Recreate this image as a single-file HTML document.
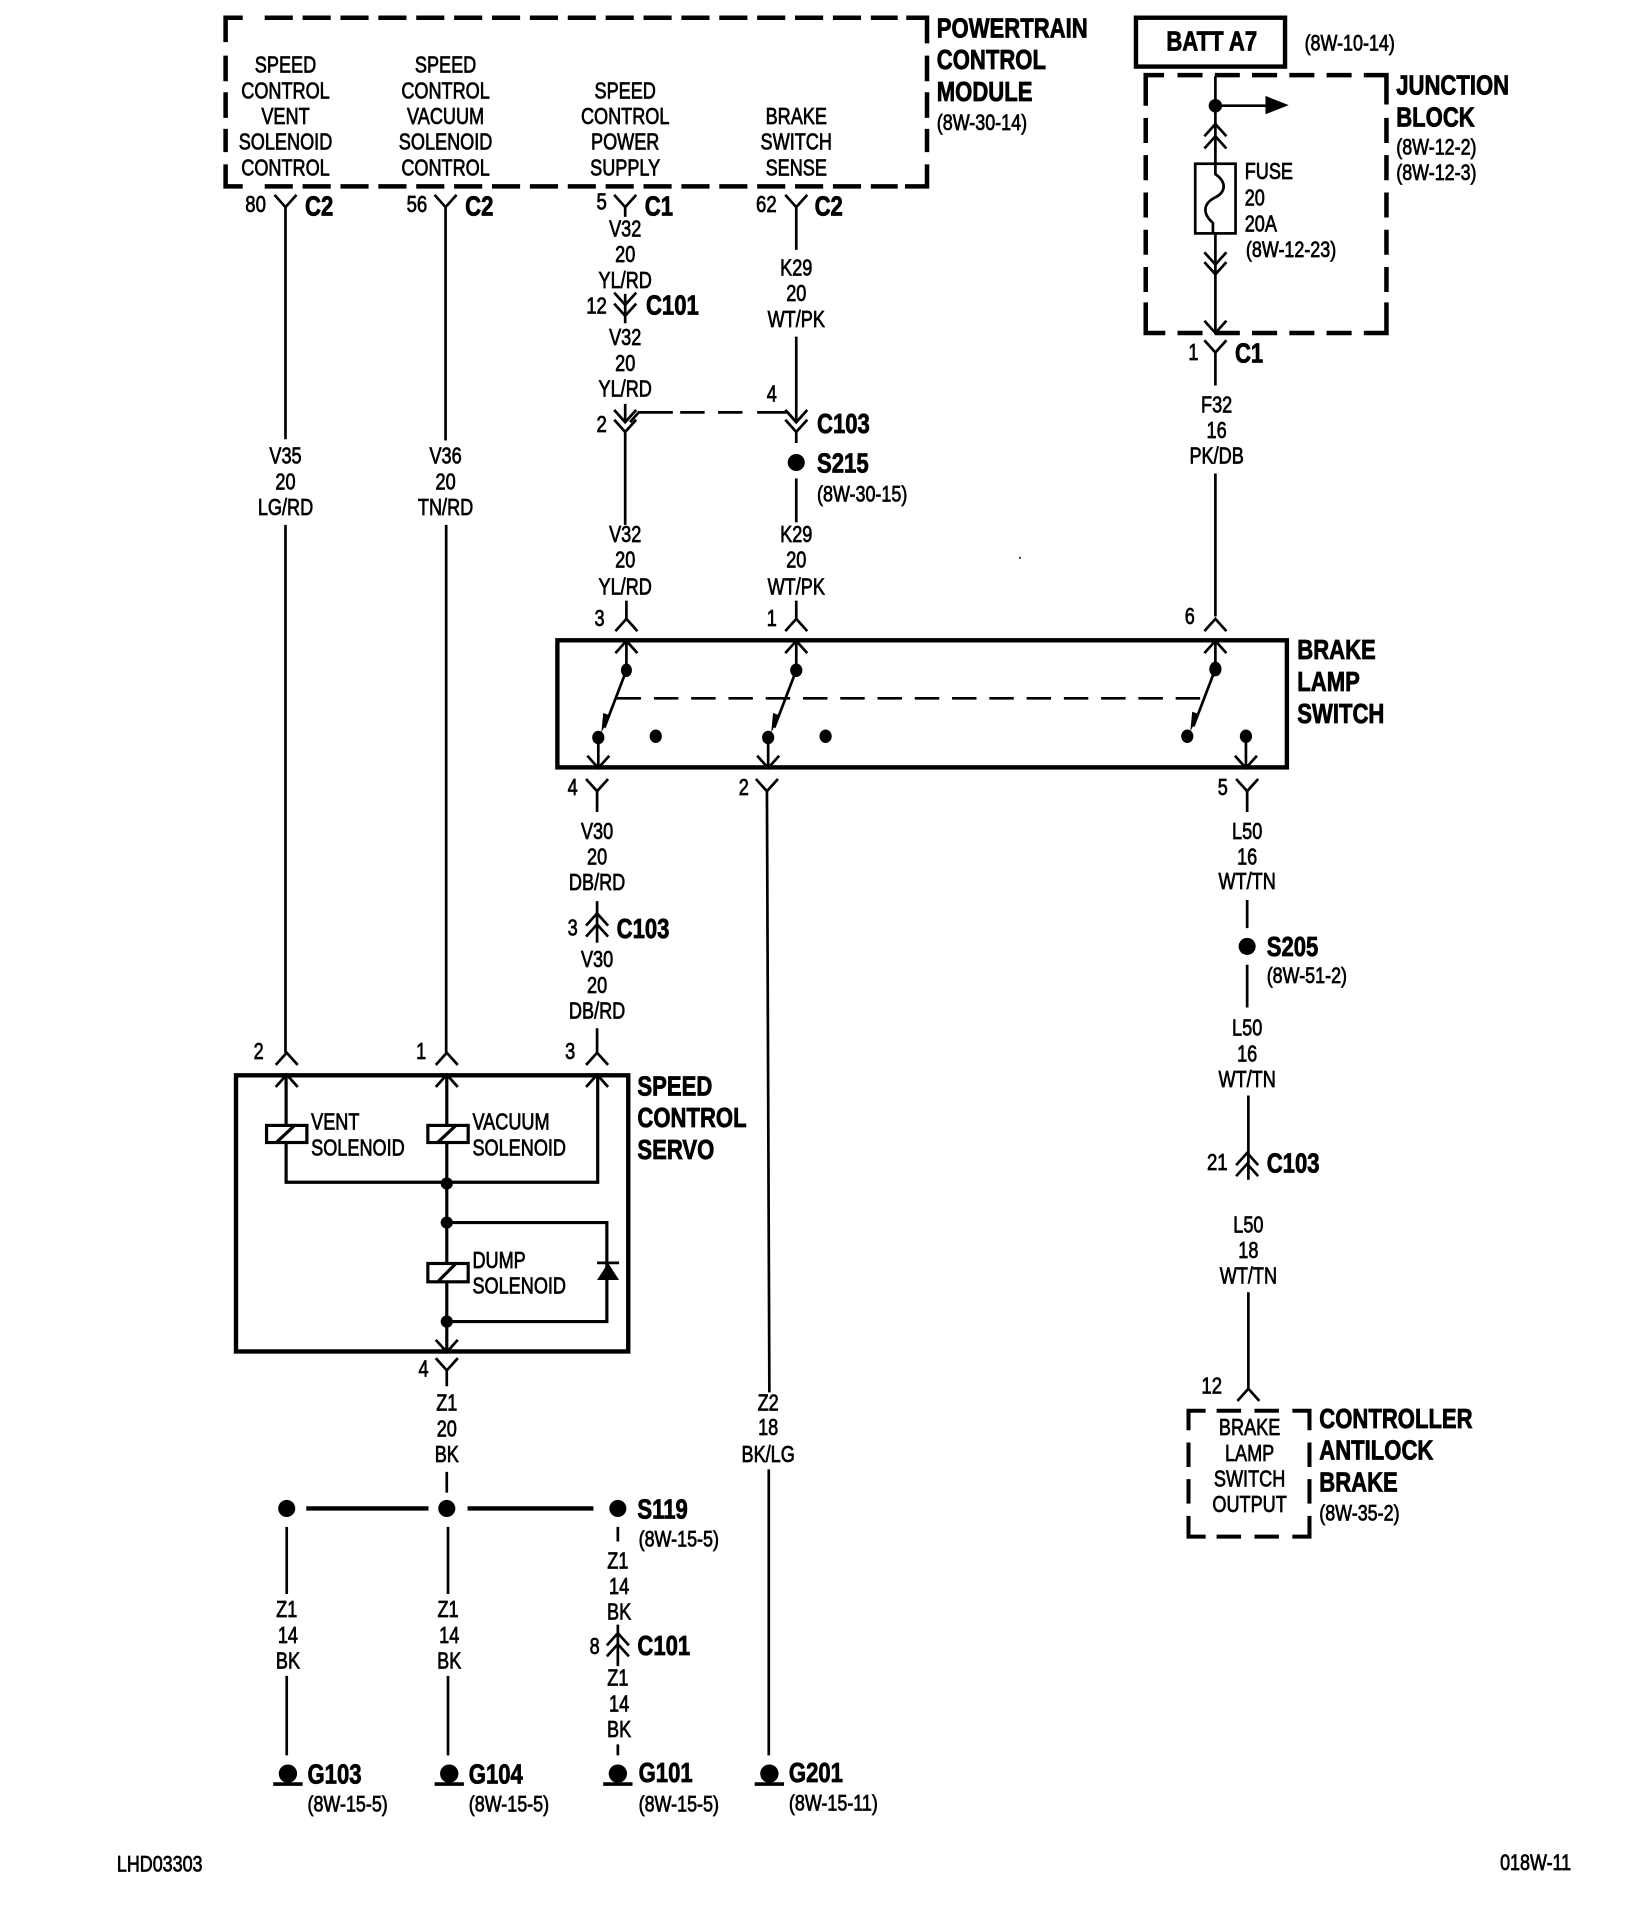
<!DOCTYPE html>
<html><head><meta charset="utf-8"><title>Wiring diagram</title>
<style>
html,body{margin:0;padding:0;background:#fff}
svg{display:block}
text{font-family:"Liberation Sans",sans-serif;font-size:19px;fill:#000;stroke:#000;stroke-width:.6}
.b{font-weight:bold;font-size:22.6px;stroke-width:.65}
.r{font-size:18px}
.m{text-anchor:middle}
.e{text-anchor:end}
.w{fill:none;stroke:#000;stroke-width:2.2}
.h{fill:none;stroke:#000;stroke-width:3.6}
.d{fill:none;stroke:#000;stroke-width:3.7}
.f{fill:#000;stroke:none}
</style></head><body>
<svg xmlns="http://www.w3.org/2000/svg" width="1648" height="1916" viewBox="0 0 1348 1568">
<defs>
<path id="v" d="M-9-10L0 0L9-10" fill="none" stroke="#000" stroke-width="2.2"/>
<path id="a" d="M-9 10L0 0L9 10" fill="none" stroke="#000" stroke-width="2.2"/>
<g id="g"><circle cx="0" cy="-1" r="7.5" fill="#000"/><path d="M-12 7.500H12" stroke="#000" stroke-width="3"/></g>
</defs>
<rect width="1348" height="1568" fill="#fff"/>
<g transform="translate(-.7 -.5)">

<!-- PCM box -->
<g class="d">
<path d="M185 35V15H199"/><path d="M217 15H735" stroke-dasharray="23 8"/><path d="M742 15H759V36"/>
<path d="M759 46V125" stroke-dasharray="21 9"/><path d="M759 135V153H741"/>
<path d="M217 153H735" stroke-dasharray="23 8"/><path d="M185 135V153H199"/><path d="M185 46V125" stroke-dasharray="21 9"/>
</g>
<g>
<text transform="translate(234 60)scale(.78 1)" class="m">SPEED</text>
<text transform="translate(234 81)scale(.78 1)" class="m">CONTROL</text>
<text transform="translate(234 102)scale(.78 1)" class="m">VENT</text>
<text transform="translate(234 123)scale(.78 1)" class="m">SOLENOID</text>
<text transform="translate(234 144)scale(.78 1)" class="m">CONTROL</text>
<text transform="translate(365 60)scale(.78 1)" class="m">SPEED</text>
<text transform="translate(365 81)scale(.78 1)" class="m">CONTROL</text>
<text transform="translate(365 102)scale(.78 1)" class="m">VACUUM</text>
<text transform="translate(365 123)scale(.78 1)" class="m">SOLENOID</text>
<text transform="translate(365 144)scale(.78 1)" class="m">CONTROL</text>
<text transform="translate(512 81)scale(.78 1)" class="m">SPEED</text>
<text transform="translate(512 102)scale(.78 1)" class="m">CONTROL</text>
<text transform="translate(512 123)scale(.78 1)" class="m">POWER</text>
<text transform="translate(512 144)scale(.78 1)" class="m">SUPPLY</text>
<text transform="translate(652 102)scale(.78 1)" class="m">BRAKE</text>
<text transform="translate(652 123)scale(.78 1)" class="m">SWITCH</text>
<text transform="translate(652 144)scale(.78 1)" class="m">SENSE</text>
<text transform="translate(767 31)scale(.8 1)" class="b">POWERTRAIN</text>
<text transform="translate(767 57)scale(.8 1)" class="b">CONTROL</text>
<text transform="translate(767 83)scale(.8 1)" class="b">MODULE</text>
<text transform="translate(767 107)scale(.815 1)" class="r">(8W-30-14)</text>
</g>

<!-- Batt / junction block -->
<rect x="930" y="15" width="122" height="40" class="h"/>
<text transform="translate(992 42)scale(.8 1)" class="b m">BATT A7</text>
<text transform="translate(1068 42)scale(.815 1)" class="r">(8W-10-14)</text>
<g class="d">
<path d="M938 87V62H953"/><path d="M964 62H1118" stroke-dasharray="20.500 10"/><path d="M1118 62H1135V86"/>
<path d="M1135 97V240" stroke-dasharray="20.500 10"/><path d="M1135 248V273H1118"/>
<path d="M964 273H1118" stroke-dasharray="20.500 10"/><path d="M938 248V273H954"/><path d="M938 97V240" stroke-dasharray="20.500 10"/>
</g>
<path d="M995 63V134M995 192V274" class="w"/>
<circle cx="995" cy="87" r="5.500" class="f"/>
<path d="M995 87H1040" class="w"/><path d="M1036 79L1055 86.500L1036 94Z" class="f"/>
<use href="#a" x="995" y="102"/><use href="#a" x="995" y="112"/>
<rect x="978.500" y="134.500" width="33" height="57" class="w"/>
<path d="M995 134V143C1005 150 1003 158 995 162C985 167 984 175 993 183V192" class="w"/>
<use href="#v" x="995" y="217"/><use href="#v" x="995" y="225"/>
<use href="#v" x="995" y="273"/>
<use href="#v" x="995" y="289"/>
<path d="M995 289V316M995 388V505" class="w"/>
<text transform="translate(1019 147)scale(.78 1)">FUSE</text>
<text transform="translate(1019 168.500)scale(.78 1)">20</text>
<text transform="translate(1019 190)scale(.78 1)">20A</text>
<text transform="translate(1020 211)scale(.815 1)" class="r">(8W-12-23)</text>
<text transform="translate(1143 78)scale(.8 1)" class="b">JUNCTION</text>
<text transform="translate(1143 104)scale(.8 1)" class="b">BLOCK</text>
<text transform="translate(1143 127)scale(.815 1)" class="r">(8W-12-2)</text>
<text transform="translate(1143 148)scale(.815 1)" class="r">(8W-12-3)</text>
<text transform="translate(977 295)scale(.78 1)" class="m">1</text>
<text transform="translate(1011 297)scale(.8 1)" class="b">C1</text>
<text transform="translate(996 338)scale(.78 1)" class="m">F32</text>
<text transform="translate(996 359)scale(.78 1)" class="m">16</text>
<text transform="translate(996 380)scale(.78 1)" class="m">PK/DB</text>

<!-- Column 234 / 365 -->
<use href="#v" x="234" y="170"/><use href="#v" x="365" y="170"/>
<path d="M234 170V360M234 430V862M365 170V361M365.500 430V862" class="w"/>
<text transform="translate(218 174)scale(.8 1)" class="e">80</text>
<text transform="translate(350 174)scale(.8 1)" class="e">56</text>
<text transform="translate(250 177)scale(.8 1)" class="b">C2</text>
<text transform="translate(381 177)scale(.8 1)" class="b">C2</text>
<text transform="translate(234 380)scale(.78 1)" class="m">V35</text>
<text transform="translate(234 401)scale(.78 1)" class="m">20</text>
<text transform="translate(234 422)scale(.78 1)" class="m">LG/RD</text>
<text transform="translate(365 380)scale(.78 1)" class="m">V36</text>
<text transform="translate(365 401)scale(.78 1)" class="m">20</text>
<text transform="translate(365 422)scale(.78 1)" class="m">TN/RD</text>

<!-- Column 512 -->
<use href="#v" x="512" y="170"/>
<path d="M512 170V178M512 241V265M512 331V346M512 354V430" class="w"/>
<text transform="translate(497 172)scale(.8 1)" class="e">5</text>
<text transform="translate(528 177)scale(.8 1)" class="b">C1</text>
<text transform="translate(512 194)scale(.78 1)" class="m">V32</text>
<text transform="translate(512 215)scale(.78 1)" class="m">20</text>
<text transform="translate(512 236)scale(.78 1)" class="m">YL/RD</text>
<use href="#v" x="512" y="250"/><use href="#v" x="512" y="259"/>
<text transform="translate(497 257)scale(.8 1)" class="e">12</text>
<text transform="translate(529 258)scale(.8 1)" class="b">C101</text>
<text transform="translate(512 283)scale(.78 1)" class="m">V32</text>
<text transform="translate(512 304)scale(.78 1)" class="m">20</text>
<text transform="translate(512 325)scale(.78 1)" class="m">YL/RD</text>
<use href="#v" x="512" y="346"/><use href="#v" x="512" y="354"/>
<text transform="translate(497 354)scale(.8 1)" class="e">2</text>
<path d="M516 346L523 338H551M557 338H577M588 338H608M620 338H645L652 346" class="w"/>
<text transform="translate(512 444)scale(.78 1)" class="m">V32</text>
<text transform="translate(512 465)scale(.78 1)" class="m">20</text>
<text transform="translate(512 487)scale(.78 1)" class="m">YL/RD</text>

<!-- Column 652 -->
<use href="#v" x="652" y="170"/>
<path d="M652 170V205M652 276V346M652 354V363M652 392V428" class="w"/>
<text transform="translate(636 174)scale(.8 1)" class="e">62</text>
<text transform="translate(667 177)scale(.8 1)" class="b">C2</text>
<text transform="translate(652 226)scale(.78 1)" class="m">K29</text>
<text transform="translate(652 247)scale(.78 1)" class="m">20</text>
<text transform="translate(652 268)scale(.78 1)" class="m">WT/PK</text>
<text transform="translate(632 329)scale(.78 1)" class="m">4</text>
<use href="#v" x="652" y="346"/><use href="#v" x="652" y="354"/>
<text transform="translate(669 355)scale(.8 1)" class="b">C103</text>
<circle cx="652" cy="379" r="7" class="f"/>
<text transform="translate(669 387)scale(.8 1)" class="b">S215</text>
<text transform="translate(669 411)scale(.815 1)" class="r">(8W-30-15)</text>
<text transform="translate(652 444)scale(.78 1)" class="m">K29</text>
<text transform="translate(652 465)scale(.78 1)" class="m">20</text>
<text transform="translate(652 487)scale(.78 1)" class="m">WT/PK</text>
<circle cx="835" cy="457" r=".8" class="f"/>

<!-- Brake lamp switch -->
<rect x="456.500" y="524.500" width="597" height="104" class="h"/>
<text transform="translate(1062 540)scale(.8 1)" class="b">BRAKE</text>
<text transform="translate(1062 566)scale(.8 1)" class="b">LAMP</text>
<text transform="translate(1062 592)scale(.8 1)" class="b">SWITCH</text>
<text transform="translate(491 513)scale(.78 1)" class="m">3</text>
<text transform="translate(632 513)scale(.78 1)" class="m">1</text>
<text transform="translate(974 511)scale(.78 1)" class="m">6</text>
<use href="#a" x="513" y="507"/><use href="#a" x="652" y="507"/><use href="#a" x="995" y="507"/>
<use href="#a" x="513" y="525"/><use href="#a" x="652" y="525"/><use href="#a" x="995" y="525"/>
<path d="M513 492V507M652 492V507M513 525V549M652 525V549M995 525V548" class="w"/>
<g class="f">
<ellipse cx="513" cy="549" rx="4.500" ry="5.500"/><ellipse cx="652" cy="549" rx="5" ry="5.500"/><ellipse cx="995" cy="548" rx="5" ry="6"/>
<ellipse cx="490" cy="604" rx="5" ry="5.500"/><ellipse cx="629" cy="604" rx="5" ry="5.500"/><ellipse cx="972" cy="603" rx="5" ry="5.500"/>
<ellipse cx="537" cy="603" rx="5" ry="5.500"/><ellipse cx="676" cy="603" rx="5" ry="5.500"/><ellipse cx="1020" cy="603" rx="5" ry="5.500"/>
</g>
<path d="M513 549L495 596M652 549L634 596M995 548L977 595" class="w"/>
<path d="M492.500 600L494 584L500 586ZM631.500 600L633 584L639 586ZM974.500 599L976 583L982 585Z" class="f"/>
<path d="M505 572H985" class="w" stroke-dasharray="20 10.500"/>
<path d="M490 604V629M629 604V629M1020 603V629" class="w"/>
<use href="#v" x="490" y="629"/><use href="#v" x="629" y="629"/><use href="#v" x="1020" y="629"/>
<use href="#v" x="489" y="648"/><use href="#v" x="628" y="648"/><use href="#v" x="1021" y="648"/>
<path d="M489 648V665M628 648L630 1140M1021 648V665" class="w"/>
<text transform="translate(469 651)scale(.78 1)" class="m">4</text>
<text transform="translate(609 651)scale(.78 1)" class="m">2</text>
<text transform="translate(1001 651)scale(.78 1)" class="m">5</text>

<!-- Column 489 -->
<text transform="translate(489 687)scale(.78 1)" class="m">V30</text>
<text transform="translate(489 708)scale(.78 1)" class="m">20</text>
<text transform="translate(489 729)scale(.78 1)" class="m">DB/RD</text>
<use href="#a" x="489" y="748"/><use href="#a" x="489" y="757"/>
<path d="M489 738V772" class="w"/>
<text transform="translate(469 766)scale(.78 1)" class="m">3</text>
<text transform="translate(505 768)scale(.8 1)" class="b">C103</text>
<text transform="translate(489 792)scale(.78 1)" class="m">V30</text>
<text transform="translate(489 813)scale(.78 1)" class="m">20</text>
<text transform="translate(489 834)scale(.78 1)" class="m">DB/RD</text>
<path d="M489 842V862" class="w"/>

<!-- Speed control servo -->
<rect x="193.500" y="880.500" width="321" height="226" class="h"/>
<text transform="translate(212 867)scale(.78 1)" class="m">2</text>
<text transform="translate(345 867)scale(.78 1)" class="m">1</text>
<text transform="translate(467 867)scale(.78 1)" class="m">3</text>
<use href="#a" x="235" y="862"/><use href="#a" x="366" y="862"/><use href="#a" x="489" y="862"/>
<use href="#a" x="235" y="880"/><use href="#a" x="366" y="880"/><use href="#a" x="489" y="880"/>
<path d="M234.500 880V968H489.500V880M366 880V1107" class="w" style="stroke-width:2.600"/>
<g class="w" style="stroke-width:2.600">
<rect x="218.500" y="921.500" width="33" height="14" fill="#fff"/>
<rect x="350.500" y="921.500" width="33" height="14" fill="#fff"/>
<rect x="350.500" y="1034.500" width="33" height="15" fill="#fff"/>
<path d="M227 935L242 921M359 935L374 921M359 1049L374 1034"/>
<path d="M366 1001H497V1082H366"/>
</g>
<path d="M489 1034H507" class="w"/>
<path d="M498 1034L507 1048H489Z" class="f"/>
<circle cx="366" cy="969" r="5" class="f"/><circle cx="366" cy="1001" r="5" class="f"/><circle cx="366" cy="1082" r="5" class="f"/>
<text transform="translate(255 925)scale(.78 1)">VENT</text>
<text transform="translate(255 946)scale(.78 1)">SOLENOID</text>
<text transform="translate(387 925)scale(.78 1)">VACUUM</text>
<text transform="translate(387 946)scale(.78 1)">SOLENOID</text>
<text transform="translate(387 1038)scale(.78 1)">DUMP</text>
<text transform="translate(387 1059)scale(.78 1)">SOLENOID</text>
<text transform="translate(522 897)scale(.8 1)" class="b">SPEED</text>
<text transform="translate(522 923)scale(.8 1)" class="b">CONTROL</text>
<text transform="translate(522 949)scale(.8 1)" class="b">SERVO</text>
<use href="#v" x="366" y="1107"/><use href="#v" x="366" y="1122"/>
<path d="M366 1122V1135M366 1205V1222" class="w"/>
<text transform="translate(347 1127)scale(.78 1)" class="m">4</text>
<text transform="translate(366 1155)scale(.78 1)" class="m">Z1</text>
<text transform="translate(366 1176)scale(.78 1)" class="m">20</text>
<text transform="translate(366 1197)scale(.78 1)" class="m">BK</text>

<!-- S119 bus -->
<circle cx="235" cy="1235" r="7" class="f"/><circle cx="366" cy="1235" r="7" class="f"/><circle cx="506" cy="1235" r="7" class="f"/>
<path d="M251 1235H351M383 1235H486" class="h"/>
<path d="M235 1250V1305M367 1250V1305M235 1372V1437M367 1372V1437M506 1250V1262M506 1330V1364M506 1428V1437" class="w"/>
<text transform="translate(522 1243)scale(.8 1)" class="b">S119</text>
<text transform="translate(523 1266)scale(.815 1)" class="r">(8W-15-5)</text>
<text transform="translate(235 1324)scale(.78 1)" class="m">Z1</text>
<text transform="translate(236 1345)scale(.78 1)" class="m">14</text>
<text transform="translate(236 1366)scale(.78 1)" class="m">BK</text>
<text transform="translate(367 1324)scale(.78 1)" class="m">Z1</text>
<text transform="translate(368 1345)scale(.78 1)" class="m">14</text>
<text transform="translate(368 1366)scale(.78 1)" class="m">BK</text>
<text transform="translate(506 1284)scale(.78 1)" class="m">Z1</text>
<text transform="translate(507 1305)scale(.78 1)" class="m">14</text>
<text transform="translate(507 1326)scale(.78 1)" class="m">BK</text>
<use href="#a" x="506" y="1337"/><use href="#a" x="506" y="1346"/>
<text transform="translate(487 1354)scale(.78 1)" class="m">8</text>
<text transform="translate(522 1355)scale(.8 1)" class="b">C101</text>
<text transform="translate(506 1380)scale(.78 1)" class="m">Z1</text>
<text transform="translate(507 1401)scale(.78 1)" class="m">14</text>
<text transform="translate(507 1422)scale(.78 1)" class="m">BK</text>

<!-- Grounds -->
<use href="#g" x="236" y="1453"/><use href="#g" x="368" y="1453"/><use href="#g" x="506" y="1453"/><use href="#g" x="630" y="1453"/>
<text transform="translate(252 1460)scale(.8 1)" class="b">G103</text>
<text transform="translate(384 1460)scale(.8 1)" class="b">G104</text>
<text transform="translate(523 1459)scale(.8 1)" class="b">G101</text>
<text transform="translate(646 1459)scale(.8 1)" class="b">G201</text>
<text transform="translate(252 1483)scale(.815 1)" class="r">(8W-15-5)</text>
<text transform="translate(384 1483)scale(.815 1)" class="r">(8W-15-5)</text>
<text transform="translate(523 1483)scale(.815 1)" class="r">(8W-15-5)</text>
<text transform="translate(646 1482)scale(.815 1)" class="r">(8W-15-11)</text>

<!-- Z2 -->
<text transform="translate(629 1155)scale(.78 1)" class="m">Z2</text>
<text transform="translate(629 1175)scale(.78 1)" class="m">18</text>
<text transform="translate(629 1197)scale(.78 1)" class="m">BK/LG</text>
<path d="M629.500 1203V1437" class="w"/>

<!-- Column 1021 -->
<text transform="translate(1021 687)scale(.78 1)" class="m">L50</text>
<text transform="translate(1021 708)scale(.78 1)" class="m">16</text>
<text transform="translate(1021 728)scale(.78 1)" class="m">WT/TN</text>
<path d="M1021 737V760M1021 790V825M1022 897V966M1022 1058V1137" class="w"/>
<circle cx="1021" cy="775" r="7" class="f"/>
<text transform="translate(1037 783)scale(.8 1)" class="b">S205</text>
<text transform="translate(1037 805)scale(.815 1)" class="r">(8W-51-2)</text>
<text transform="translate(1021 848)scale(.78 1)" class="m">L50</text>
<text transform="translate(1021 869)scale(.78 1)" class="m">16</text>
<text transform="translate(1021 890)scale(.78 1)" class="m">WT/TN</text>
<use href="#a" x="1021" y="944"/><use href="#a" x="1021" y="953"/>
<text transform="translate(1005 958)scale(.8 1)" class="e">21</text>
<text transform="translate(1037 960)scale(.8 1)" class="b">C103</text>
<text transform="translate(1022 1009)scale(.78 1)" class="m">L50</text>
<text transform="translate(1022 1030)scale(.78 1)" class="m">18</text>
<text transform="translate(1022 1051)scale(.78 1)" class="m">WT/TN</text>
<use href="#a" x="1022" y="1137"/>
<text transform="translate(992 1141)scale(.8 1)" class="m">12</text>

<!-- ABS box -->
<g class="d" style="stroke-width:3.300">
<path d="M973 1171V1155H987"/><path d="M996 1155H1016M1027 1155H1047"/><path d="M1058 1155H1072V1171"/>
<path d="M1072 1181V1201M1072 1211V1231"/><path d="M1072 1241V1258H1058"/>
<path d="M996 1258H1016M1027 1258H1047"/><path d="M973 1241V1258H987"/><path d="M973 1181V1201M973 1211V1231"/>
</g>
<text transform="translate(1023 1175)scale(.78 1)" class="m">BRAKE</text>
<text transform="translate(1023 1196)scale(.78 1)" class="m">LAMP</text>
<text transform="translate(1023 1217)scale(.78 1)" class="m">SWITCH</text>
<text transform="translate(1023 1238)scale(.78 1)" class="m">OUTPUT</text>
<text transform="translate(1080 1169)scale(.8 1)" class="b">CONTROLLER</text>
<text transform="translate(1080 1195)scale(.8 1)" class="b">ANTILOCK</text>
<text transform="translate(1080 1221)scale(.8 1)" class="b">BRAKE</text>
<text transform="translate(1080 1245)scale(.815 1)" class="r">(8W-35-2)</text>

<text transform="translate(96 1532)scale(.815 1)" class="r">LHD03303</text>
<text transform="translate(1228 1531)scale(.815 1)" class="r">018W-11</text>
</g>
</svg>
</body></html>
